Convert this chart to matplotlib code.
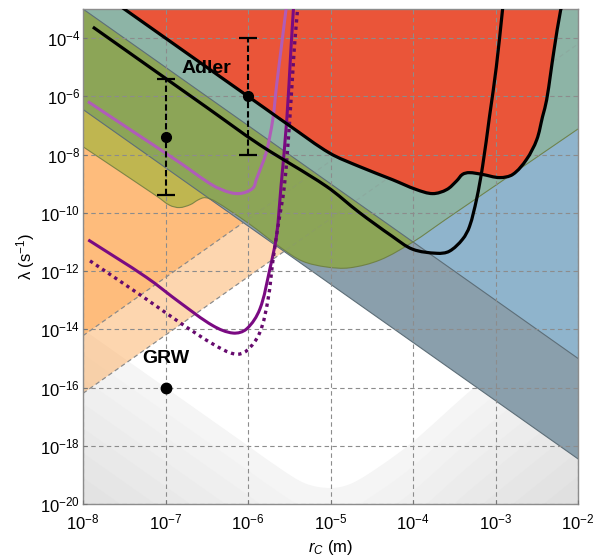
import matplotlib
matplotlib.use("Agg")
import matplotlib.pyplot as plt
from matplotlib.patches import Polygon, PathPatch
from matplotlib.path import Path
import numpy as np

plt.rcParams['font.family'] = ['Liberation Sans', 'DejaVu Sans']
plt.rcParams['mathtext.fontset'] = 'custom'
plt.rcParams['mathtext.rm'] = 'Liberation Sans'
plt.rcParams['mathtext.it'] = 'Liberation Sans:italic'
plt.rcParams['mathtext.bf'] = 'Liberation Sans:bold'

# every value below is log10: x = r_C (m), y = lambda (1/s)
x_lim = (-8.0, -2.0)
y_lim = (-20.0, -3.0)

# straight bounds, given at the left and right edge of the frame
edge_x = [-8.0, -2.0]
band_lower_y = [-6.45, -18.45]
band_upper_y = [-3.0, -15.0]
orange_upper_y = [-14.22, -2.22]
orange_lower_y = [-16.2, -4.2]

green_x = [-8.0, -7.10, -6.95, -6.83, -6.70, -6.60, -6.52, -6.40, -6.00,
           -5.60, -5.34, -5.05, -4.77, -4.40, -4.005, -3.60, -3.0, -2.0]
green_y = [-7.73, -9.44, -9.74, -9.82, -9.72, -9.55, -9.48, -9.60, -10.35,
           -11.20, -11.66, -11.86, -11.89, -11.62, -11.01, -10.22, -9.06,
           -7.12]

red_x = [-7.55, -6.50, -5.80, -5.49, -5.01, -4.65, -4.25, -3.96, -3.76,
         -3.59, -3.47, -3.40, -3.32, -3.16, -2.95, -2.79, -2.625, -2.50,
         -2.43, -2.38, -2.29, -2.21, -2.19]
red_y = [-2.90, -5.00, -6.40, -7.02, -7.95, -8.41, -8.86, -9.20, -9.34,
         -9.20, -8.90, -8.68, -8.62, -8.68, -8.79, -8.68, -8.17, -7.49,
         -6.70, -6.12, -4.40, -3.03, -2.90]

black_x = [-7.88, -7.00, -6.50, -5.86, -5.05, -4.65, -4.25, -4.005, -3.71,
           -3.56, -3.40, -3.315, -3.23, -3.157, -3.073, -2.99, -2.915, -2.91]
black_y = [-3.62, -5.38, -6.38, -7.66, -9.09, -9.99, -10.81, -11.25, -11.39,
           -11.32, -10.91, -10.47, -9.54, -8.41, -6.70, -4.99, -3.03, -2.90]

magenta_x = [-7.94, -7.43, -6.83, -6.43, -6.22, -6.08, -5.94, -5.90, -5.78,
             -5.70, -5.655, -5.60, -5.54, -5.535]
magenta_y = [-6.18, -7.14, -8.27, -9.05, -9.30, -9.33, -9.15, -8.86, -7.93,
             -6.80, -5.66, -4.40, -3.03, -2.90]

purple_x = [-7.936, -7.229, -6.826, -6.423, -6.18, -6.018, -5.857, -5.736,
            -5.655, -5.60, -5.53, -5.48, -5.45, -5.448]
purple_y = [-10.93, -12.22, -13.08, -13.88, -14.13, -13.99, -13.31, -11.94,
            -10.80, -9.10, -6.80, -4.40, -3.03, -2.90]

purple_dot_x = [-7.915, -7.229, -6.826, -6.423, -6.16, -6.018, -5.857,
                -5.757, -5.696, -5.636, -5.56, -5.494, -5.44, -5.40, -5.398]
purple_dot_y = [-11.65, -12.97, -13.77, -14.51, -14.85, -14.74, -14.11,
                -12.97, -11.60, -10.46, -9.10, -6.80, -4.40, -3.03, -2.90]

grey_x = [-8.0, -7.0, -6.0, -5.6, -5.3, -5.0, -4.75, -4.4, -4.0, -3.28,
          -2.0]
grey_y = [-14.0, -16.0, -18.0, -18.8, -19.3, -19.45, -19.3, -18.7, -17.86,
          -16.05, -13.1]
grey_step = 0.85
grey_shades = ['#f5f5f5', '#f2f2f2', '#efefef', '#ececec', '#e9e9e9',
               '#e6e6e6', '#e3e3e3', '#e0e0e0', '#dddddd']

adler_x = [-7.0, -6.0]
adler_y = [-7.39, -6.0]
adler_err = [2.0, 2.0]
grw_x = [-7.0]
grw_y = [-16.0]

# pixels per decade, so the smoothing works in screen proportions
SX = 495 / 6.0
SY = 495 / 17.0


def P(a):
    return 10.0 ** np.asarray(a, dtype=float)


def smooth_path(xs, ys, close_y=None):
    """Bezier path through the points (in log space), optionally closed
    against a horizontal edge at close_y."""
    pts = np.column_stack([np.asarray(xs) * SX, np.asarray(ys) * SY])
    n = len(pts)
    tang = np.zeros_like(pts)
    for i in range(n):
        if i == 0:
            v = pts[1] - pts[0]
        elif i == n - 1:
            v = pts[-1] - pts[-2]
        else:
            d0 = pts[i] - pts[i - 1]
            d1 = pts[i + 1] - pts[i]
            l0, l1 = np.hypot(*d0), np.hypot(*d1)
            v = (d0 + d1) / (l0 + l1)
        tang[i] = v / np.hypot(*v)
    verts = [pts[0]]
    codes = [Path.MOVETO]
    for i in range(n - 1):
        L = np.hypot(*(pts[i + 1] - pts[i]))
        verts += [pts[i] + tang[i] * L / 3, pts[i + 1] - tang[i + 1] * L / 3,
                  pts[i + 1]]
        codes += [Path.CURVE4] * 3
    verts = np.array(verts)
    verts[:, 0] /= SX
    verts[:, 1] /= SY
    verts = verts.tolist()
    if close_y is not None:
        verts += [[xs[-1], close_y], [xs[0], close_y], [xs[0], close_y]]
        codes += [Path.LINETO, Path.LINETO, Path.CLOSEPOLY]
    return Path(P(verts), codes)


def above(xs, ys, top=y_lim[1] + 0.5):
    pts = list(zip(P(xs), P(ys)))
    pts += [(P(xs[-1]), P(top)), (P(xs[0]), P(top))]
    return pts


fig = plt.figure(figsize=(5.99, 5.56), dpi=100)
ax = fig.add_axes([83 / 599, 1 - 504 / 556, 495 / 599, 495 / 556])
ax.set_xscale('log')
ax.set_yscale('log')
ax.set_xlim(P(x_lim[0]), P(x_lim[1]))
ax.set_ylim(P(y_lim[0]), P(y_lim[1]))

# theoretical lower region, shaded bands
for k, c in enumerate(grey_shades):
    ys = np.asarray(grey_y) - grey_step * k
    ax.add_patch(PathPatch(smooth_path(grey_x, ys, close_y=y_lim[0] - 1),
                           fc=c, ec='none', zorder=0.2 + 0.01 * k))

# orange wedges (the light one lets the grey show through)
ax.add_patch(Polygon(above(edge_x, orange_lower_y), fc='#fdaf61', ec='none',
                     alpha=0.5, zorder=0.4))
ax.add_patch(Polygon(above(edge_x, orange_upper_y), fc='#febc7c', ec='none',
                     zorder=0.45))
for ys in (orange_upper_y, orange_lower_y):
    ax.plot(P(edge_x), P(ys), color='#8a8a8a', lw=0.8, ls=(0, (4, 3)),
            zorder=0.5)

# diagonal band and the region above it
ax.add_patch(Polygon(above(edge_x, band_lower_y), fc='#8a9fac', ec='none',
                     zorder=0.6))
ax.add_patch(Polygon(above(edge_x, band_upper_y), fc='#8fb4cc', ec='none',
                     zorder=0.65))

# green region and its overlaps
green = PathPatch(smooth_path(green_x, green_y, close_y=y_lim[1] + 0.5),
                  fc='#bfb650', ec='none', zorder=0.7)
ax.add_patch(green)
olive = Polygon(above(edge_x, band_lower_y), fc='#8ca557', ec='none',
                zorder=0.75)
ax.add_patch(olive)
olive.set_clip_path(green)
teal = Polygon(above(edge_x, band_upper_y), fc='#8db4a6', ec='none',
               zorder=0.8)
ax.add_patch(teal)
teal.set_clip_path(green)

ax.plot(P(edge_x), P(band_lower_y), color='#5d6e78', lw=0.8, zorder=0.85)
ax.plot(P(edge_x), P(band_upper_y), color='#5d6e78', lw=0.8, zorder=0.85)
ax.add_patch(PathPatch(smooth_path(green_x, green_y), fill=False,
                       ec='#66783f', lw=0.8, alpha=0.8, zorder=0.85))
for ys in (orange_upper_y, orange_lower_y):
    ax.plot(P(edge_x), P(ys), color='#8a8a8a', lw=0.8, ls=(0, (4, 3)),
            alpha=0.25, zorder=0.9)

# excluded (red) region
ax.add_patch(PathPatch(smooth_path(red_x, red_y, close_y=y_lim[1] + 0.5),
                       fc='#ea5539', ec='none', zorder=0.95))

# grid
ax.set_axisbelow(False)
ax.grid(True, color='#8c8c8c', lw=0.8, ls=(0, (4, 3)))

# curves
curves = [
    (magenta_x, magenta_y, '#b05cb8', 2.2, '-', 3.0),
    (purple_x, purple_y, '#7a0a82', 2.2, '-', 3.1),
    (purple_dot_x, purple_dot_y, '#660a6e', 2.4, (0, (1, 1.2)), 3.1),
    (red_x, red_y, 'black', 2.3, '-', 3.2),
    (black_x, black_y, 'black', 2.3, '-', 3.2),
]
for xs, ys, col, lw, ls, z in curves:
    ax.add_patch(PathPatch(smooth_path(xs, ys), fill=False, ec=col, lw=lw,
                           ls=ls, zorder=z, capstyle='butt'))

# Adler proposals with ranges, GRW point
ay = P(adler_y)
lo = ay - P(np.asarray(adler_y) - np.asarray(adler_err))
hi = P(np.asarray(adler_y) + np.asarray(adler_err)) - ay
eb = ax.errorbar(P(adler_x), ay, yerr=[lo, hi], fmt='o', color='black',
                 ms=7, capsize=6.5, elinewidth=1.5, capthick=1.6, zorder=4)
eb[2][0].set_linestyle((0, (3, 1.5)))
ax.plot(P(grw_x), P(grw_y), 'o', color='black', ms=7.5, zorder=4)

ax.text(P(-6.505), P(-5.03), 'Adler', fontsize=14, fontweight='bold',
        ha='center', va='center', zorder=5)
ax.text(P(-7.0), P(-15.0), 'GRW', fontsize=14, fontweight='bold',
        ha='center', va='center', zorder=5)

# ticks and labels
ax.set_xticks(P(np.arange(-8, -1)))
ax.set_yticks(P(np.arange(-20, -3, 2)))
ax.minorticks_off()
ax.tick_params(direction='in', length=3, width=0.8, color='#777777',
               labelsize=12)
ax.tick_params(axis='x', pad=6)
ax.tick_params(axis='y', pad=2)
for s in ax.spines.values():
    s.set_color('#8c8c8c')
    s.set_linewidth(1.0)

ax.set_xlabel(r'$r_C$ (m)', fontsize=12, labelpad=4)
ax.set_ylabel(r'λ (s$^{-1}$)', fontsize=12, labelpad=2)

fig.savefig('out.png', dpi=100)
